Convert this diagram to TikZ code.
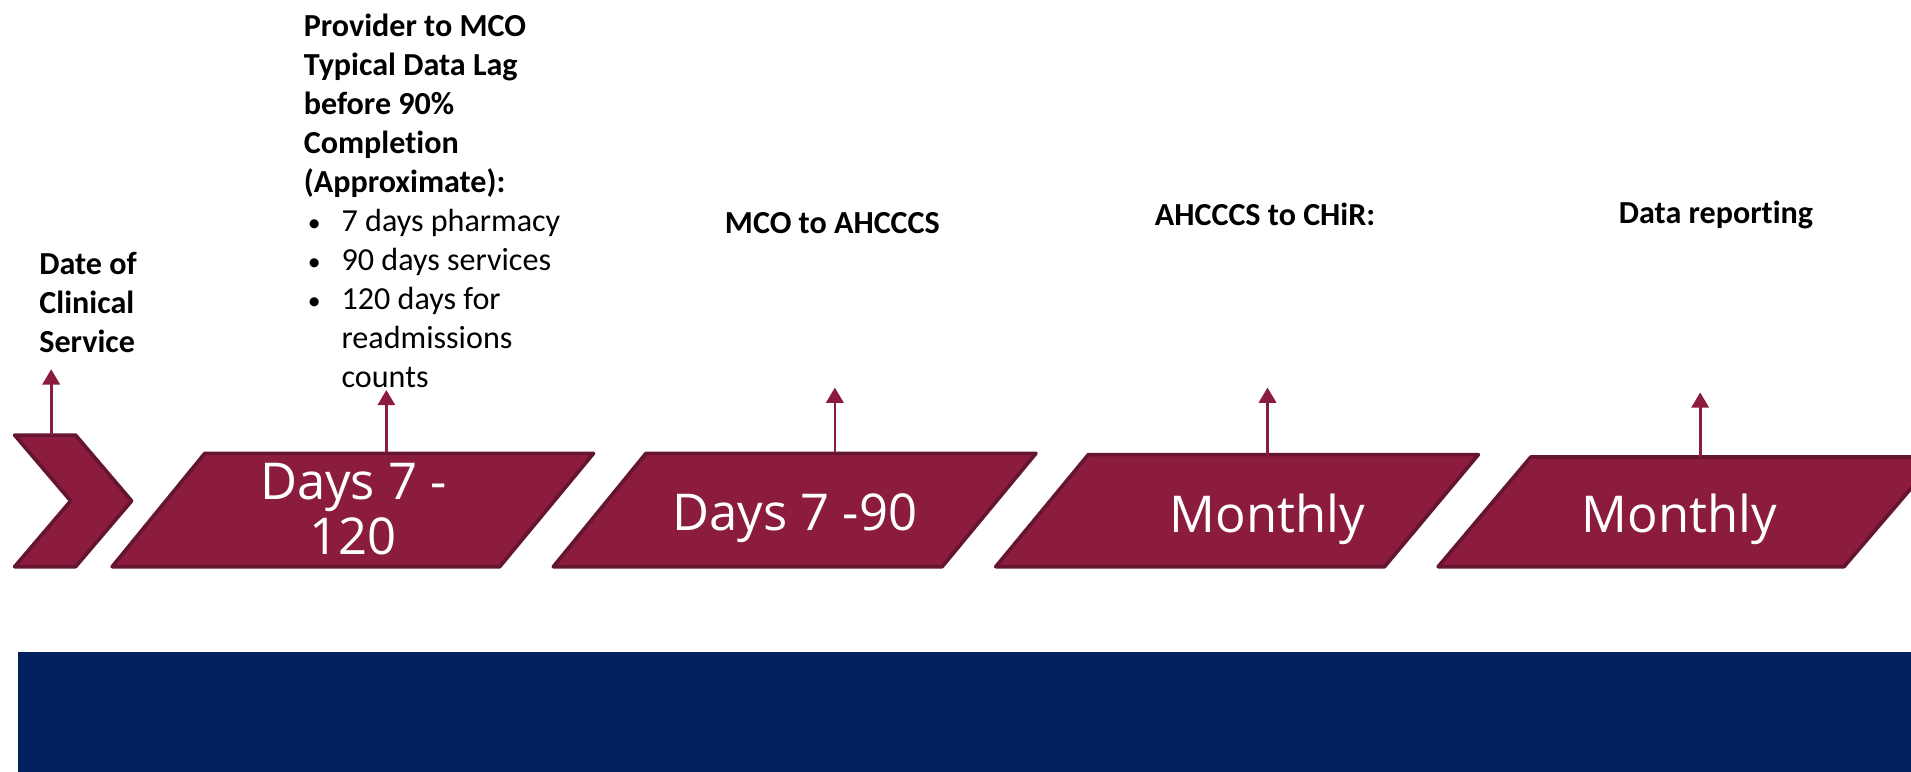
\documentclass[tikz,border=0pt]{standalone}
\usepackage{fontspec}
\setmainfont{Carlito}[Ligatures=NoCommon]
\newfontfamily\boxfont{Open Sans}
\usetikzlibrary{arrows.meta}
\definecolor{maroon}{HTML}{8B1C3E}
\definecolor{maroonline}{HTML}{661530}
\definecolor{navy}{HTML}{03205F}
\tikzset{
  stage/.style={fill=maroon,draw=maroonline,line width=1.8pt,line join=round},
  stagetext/.style={text=white,font=\boxfont\fontsize{25}{27}\selectfont,inner sep=0pt,align=center},
  lbl/.style={font=\bfseries\fontsize{15.8}{19.2}\selectfont,inner sep=0pt,align=left},
  lagnote/.style={font=\fontsize{15.8}{19.2}\selectfont,inner sep=0pt,align=left},
  tick/.style={draw=maroon,line width=1.3pt,-{Triangle[width=8.5pt,length=7.5pt]}}
}
\newcommand{\bul}{\hspace*{2pt}\makebox[16.6pt][l]{\scalebox{0.8}{\textbullet}}}
\begin{document}
\begin{tikzpicture}[x=0.6pt,y=-0.6pt]
  \useasboundingbox (0,0) rectangle (1568,633);
  % bottom band
  \fill[navy] (15,535) rectangle (1580,640);

  % stages
  \draw[stage] (12,357) -- (62,357) -- (108,411) -- (62,465) -- (12,465) -- (58,411) -- cycle;
  \draw[stage] (168,372) -- (487,372) -- (410,465) -- (92,465) -- cycle;
  \draw[stage] (530,372) -- (850,372) -- (773,465) -- (454,465) -- cycle;
  \draw[stage] (893,373) -- (1213,373) -- (1136,465) -- (817,465) -- cycle;
  \draw[stage] (1256,375) -- (1590,375) -- (1513,465) -- (1180,465) -- cycle;

  \node[stagetext] (lag) at (290,418) {Days 7 -\\120};
  \node[stagetext,anchor=base] (mco) at (652,435) {Days 7 -90};
  \node[stagetext,anchor=base] (chir) at (1040,437) {Monthly};
  \node[stagetext,anchor=base] (rep) at (1378,437) {Monthly};

  % labels
  \node[lbl,anchor=north west] (dos) at (32,207) {Date of\\Clinical\\Service};
  \node[lagnote,anchor=north west] (lagtxt) at (249,11) {\textbf{Provider to MCO}\\
    \textbf{Typical Data Lag}\\\textbf{before 90\%}\\\textbf{Completion}\\
    \textbf{(Approximate):}\\\bul 7 days pharmacy\\\bul 90 days services\\
    \bul 120 days for\\\hspace*{18.6pt}readmissions\\\hspace*{18.6pt}counts};
  \node[lbl,anchor=base] (mcotxt) at (683,192) {MCO to AHCCCS};
  \node[lbl,anchor=base] (chirtxt) at (1038,185) {AHCCCS to CHiR:};
  \node[lbl,anchor=base] (reptxt) at (1408,183) {Data reporting};

  % arrows
  \coordinate (s0) at (42,357);   \coordinate (e0) at (42,303);
  \coordinate (s1) at (317,372);  \coordinate (e1) at (317,320);
  \coordinate (s2) at (685,372);  \coordinate (e2) at (685,318);
  \coordinate (s3) at (1040,373); \coordinate (e3) at (1040,318);
  \coordinate (s4) at (1395,375); \coordinate (e4) at (1395,322);
  \foreach \i in {0,...,4}
    \draw[tick] (s\i) -- (e\i);
\end{tikzpicture}
\end{document}
